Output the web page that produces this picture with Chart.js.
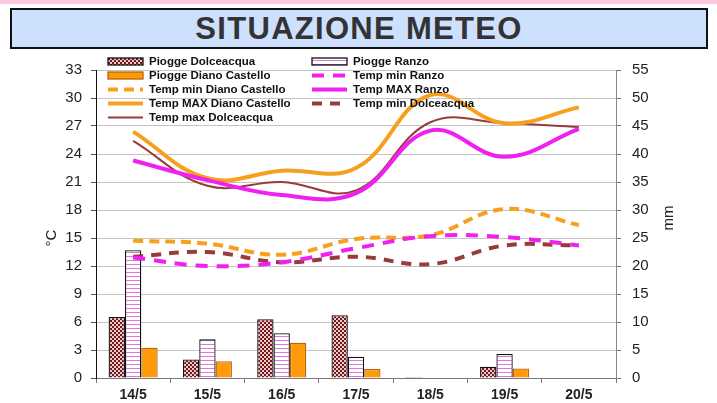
<!DOCTYPE html>
<html>
<head>
<meta charset="utf-8">
<title>Situazione meteo</title>
<script src="https://cdn.jsdelivr.net/npm/chart.js"></script>
<style>
    html, body { margin: 0; padding: 0; background: #fff; }
    #band { position: absolute; left: 0; top: 0; width: 717px; height: 4px; background: #f9c8de; }
    #title {
        position: absolute; left: 10px; top: 8px; width: 694px; height: 37px;
        background: #cde0fd; border: 2px solid #111;
        font: bold 31px "Liberation Sans", Arial, sans-serif; color: #333;
        letter-spacing: 1.3px;
        text-align: center; line-height: 38px;
    }
    #myChart { position: absolute; left: 0; top: 0; }
</style>
</head>
<body>
<div id="band"></div>
<canvas id="myChart" width="717" height="403"></canvas>
<div id="title">SITUAZIONE METEO</div>
<script>
const days = ['14/5', '15/5', '16/5', '17/5', '18/5', '19/5', '20/5'];

// rain, mm (right axis)
const rainDolceacqua = [10.9, 3.3, 10.5, 11.2, 0.2, 2.0, 0];
const rainRanzo = [22.8, 6.9, 8.0, 3.8, 0, 4.3, 0];
const rainDiano = [5.4, 3.0, 6.3, 1.6, 0, 1.7, 0];

// temperatures, °C (left axis)
const minRanzo = [12.9, 12.0, 12.4, 13.9, 15.2, 15.1, 14.2];
const minDiano = [14.7, 14.4, 13.2, 14.9, 15.3, 18.1, 16.4];
const maxRanzo = [23.3, 21.2, 19.6, 19.8, 26.5, 23.7, 26.7];
const maxDiano = [26.4, 21.4, 22.2, 22.5, 30.3, 27.3, 29.0];
const minDolceacqua = [13.0, 13.5, 12.4, 13.0, 12.2, 14.2, 14.2];
const maxDolceacqua = [25.4, 20.6, 21.0, 20.1, 27.4, 27.3, 26.9];

const tempTicks = { min: 0, max: 33, step: 3 };
const rainTicks = { min: 0, max: 55, step: 5 };

const font = '"Liberation Sans", Arial, sans-serif';

function makePattern(draw) {
    const c = document.createElement('canvas');
    c.width = 4;
    c.height = 4;
    draw(c.getContext('2d'));
    return c.getContext('2d').createPattern(c, 'repeat');
}

const checkPattern = makePattern(g => {
    g.fillStyle = '#6e1a1e';
    g.fillRect(0, 0, 4, 4);
    g.fillStyle = '#ecc8c8';
    g.fillRect(0, 0, 2, 2);
    g.fillRect(2, 2, 2, 2);
});

const stripePattern = makePattern(g => {
    g.fillStyle = '#ffffff';
    g.fillRect(0, 0, 4, 4);
    g.fillStyle = '#dd77dd';
    g.fillRect(0, 0, 4, 1);
});

function lineSet(label, data, color, width, dash) {
    return {
        type: 'line',
        label,
        data,
        yAxisID: 'y',
        borderColor: color,
        backgroundColor: color,
        borderWidth: width,
        borderDash: dash,
        pointRadius: 0,
        fill: false,
        tension: 0.4,
        order: 1
    };
}

function barSet(label, data, fill, border) {
    return {
        type: 'bar',
        label,
        data,
        yAxisID: 'y1',
        backgroundColor: fill,
        borderColor: border,
        borderWidth: 1.3,
        categoryPercentage: 0.66,
        barPercentage: 1,
        order: 2
    };
}

// same order as the two-column legend, row by row
const datasets = [
    barSet('Piogge Dolceacqua', rainDolceacqua, checkPattern, '#111'),
    barSet('Piogge Ranzo', rainRanzo, stripePattern, '#111'),
    barSet('Piogge Diano Castello', rainDiano, '#ff9a0a', '#b8650a'),
    lineSet('Temp min Ranzo', minRanzo, '#f020f0', 4, [12, 9]),
    lineSet('Temp min Diano Castello', minDiano, '#f7a020', 4, [10, 6]),
    lineSet('Temp MAX Ranzo', maxRanzo, '#f020f0', 4, []),
    lineSet('Temp MAX Diano Castello', maxDiano, '#f7a020', 4, []),
    lineSet('Temp min Dolceacqua', minDolceacqua, '#9a3b3b', 4, [10, 8]),
    lineSet('Temp max Dolceacqua', maxDolceacqua, '#9a3b3b', 2, [])
];

const extras = {
    id: 'extras',
    afterDraw(chart) {
        const ctx = chart.ctx;
        const area = chart.chartArea;
        ctx.save();

        // legend, two columns
        chart.data.datasets.forEach((ds, i) => {
            const x = area.left + 12 + (i % 2) * 204;
            const y = area.top - 9 + Math.floor(i / 2) * 14;
            if (ds.type === 'bar') {
                ctx.fillStyle = ds.backgroundColor;
                ctx.fillRect(x, y - 3, 35, 7);
                ctx.strokeStyle = ds.borderColor;
                ctx.lineWidth = 1.3;
                ctx.setLineDash([]);
                ctx.strokeRect(x, y - 3, 35, 7);
            } else {
                ctx.strokeStyle = ds.borderColor;
                ctx.lineWidth = ds.borderWidth;
                ctx.setLineDash(ds.borderDash);
                ctx.beginPath();
                ctx.moveTo(x, y + 0.5);
                ctx.lineTo(x + 35, y + 0.5);
                ctx.stroke();
            }
            ctx.setLineDash([]);
            ctx.fillStyle = '#111';
            ctx.font = 'bold 11.5px ' + font;
            ctx.textAlign = 'left';
            ctx.textBaseline = 'middle';
            ctx.fillText(ds.label, x + 41, y + 1);
        });

        // axis titles
        const mid = (area.top + area.bottom) / 2;
        ctx.font = '15px ' + font;
        ctx.fillStyle = '#222';
        ctx.textAlign = 'center';
        ctx.textBaseline = 'middle';

        ctx.save();
        ctx.translate(area.left - 44, mid + 14);
        ctx.rotate(-Math.PI / 2);
        ctx.fillText('°C', 0, 0);
        ctx.restore();

        ctx.save();
        ctx.translate(area.right + 53, mid - 6);
        ctx.rotate(-Math.PI / 2);
        ctx.fillText('mm', 0, 0);
        ctx.restore();

        ctx.restore();
    }
};

new Chart(document.getElementById('myChart'), {
    data: { labels: days, datasets },
    plugins: [extras],
    options: {
        responsive: false,
        animation: false,
        devicePixelRatio: 1,
        layout: { padding: { top: 70, left: 0, right: 0, bottom: 0 } },
        plugins: {
            legend: { display: false },
            tooltip: { enabled: false }
        },
        scales: {
            x: {
                offset: true,
                afterFit: s => { s.height = 25; },
                border: { color: '#777', width: 1 },
                grid: { drawOnChartArea: false, tickLength: 5, tickColor: '#777', offset: true },
                ticks: { color: '#222', padding: 4, font: { family: font, size: 14, weight: 'bold' } }
            },
            y: {
                position: 'left',
                min: tempTicks.min,
                max: tempTicks.max,
                afterFit: s => { s.width = 96; },
                border: { color: '#111', width: 1 },
                grid: { color: '#c4c4c4', lineWidth: 1, tickLength: 5, tickColor: '#555' },
                ticks: { stepSize: tempTicks.step, color: '#222', padding: 9, font: { family: font, size: 15 } }
            },
            y1: {
                position: 'right',
                min: rainTicks.min,
                max: rainTicks.max,
                afterFit: s => { s.width = 101; },
                border: { color: '#888', width: 1 },
                grid: { drawOnChartArea: false, tickLength: 5, tickColor: '#777' },
                ticks: { stepSize: rainTicks.step, color: '#222', padding: 11, font: { family: font, size: 15 } }
            }
        }
    }
});
</script>
</body>
</html>
